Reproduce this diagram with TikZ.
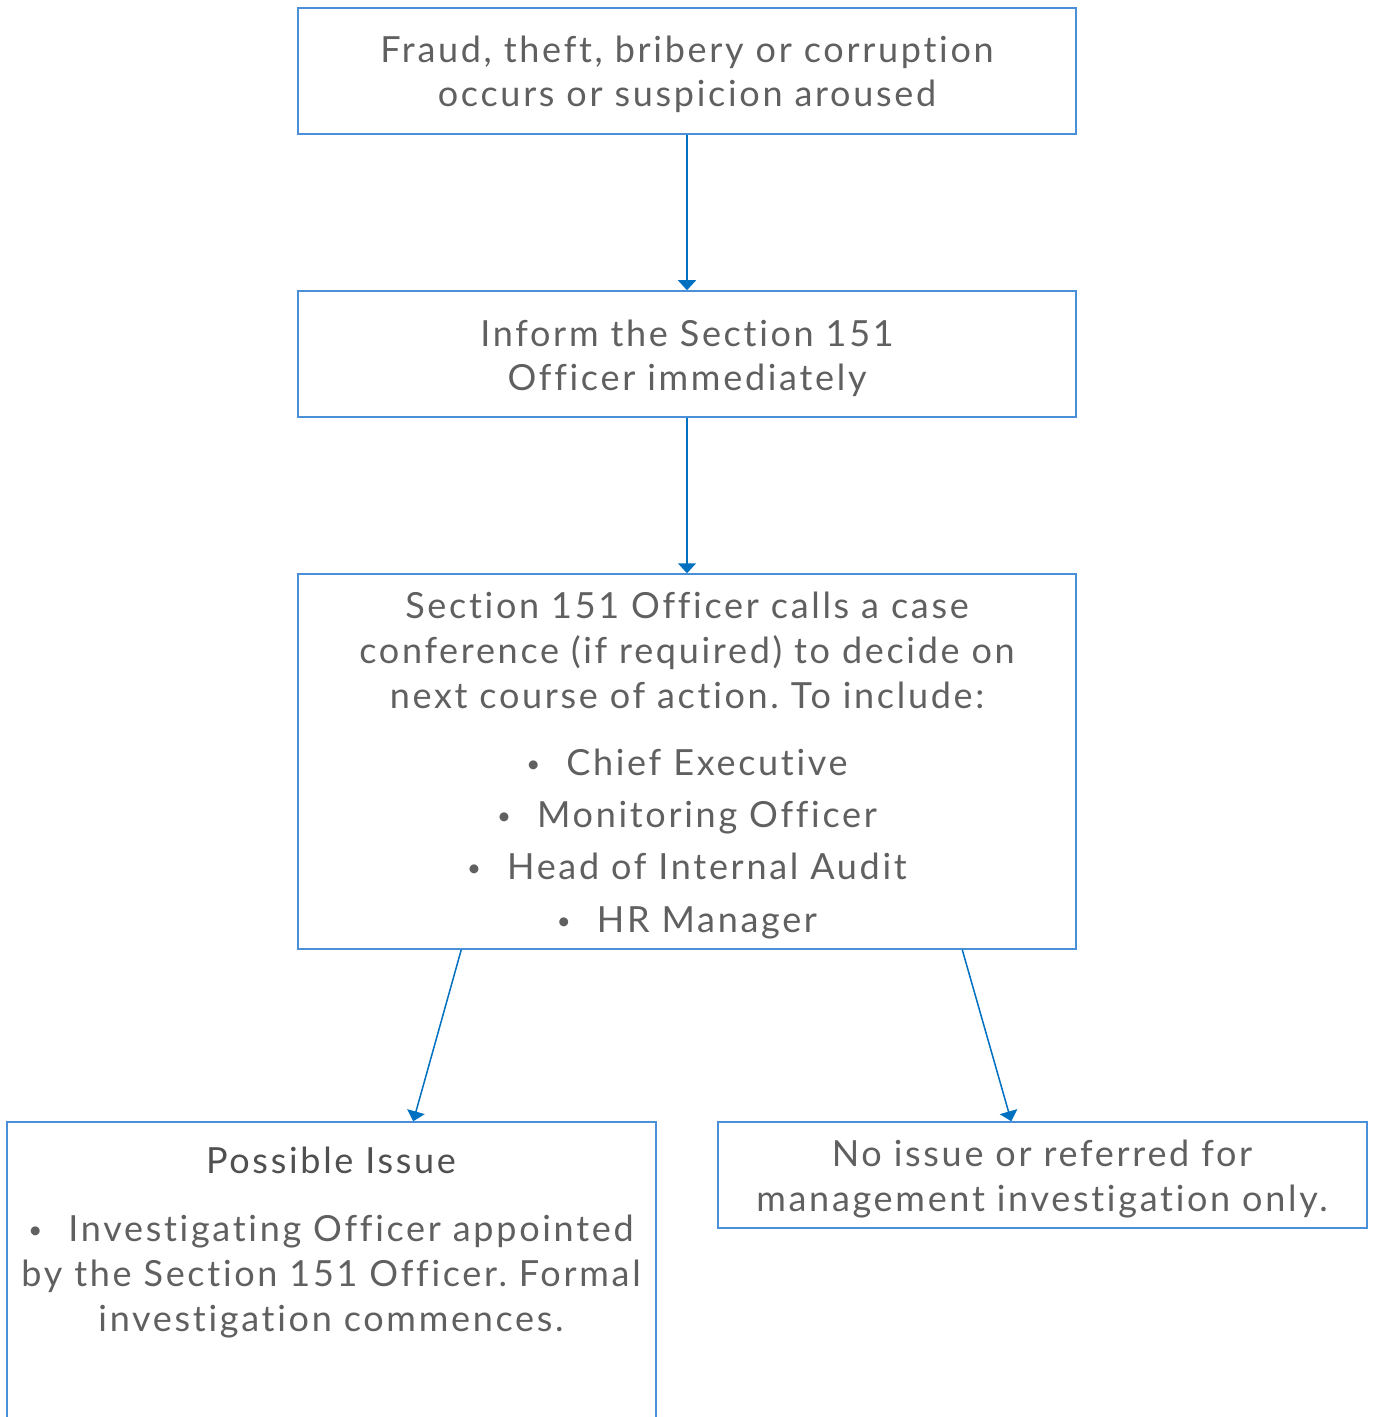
\documentclass[tikz,border=0pt]{standalone}
\usepackage{fontspec}
\setmainfont{Lato}[Ligatures={NoCommon}, LetterSpace=7.5]
\usetikzlibrary{arrows.meta}
\definecolor{boxblue}{RGB}{74,144,217}
\definecolor{arrblue}{RGB}{0,112,192}
\definecolor{txt}{RGB}{96,96,96}
\frenchspacing
\newcommand{\bul}{\raisebox{1.5pt}{\fontsize{12}{12}\selectfont•}\hspace{13pt}}
\tikzset{
  box/.style={draw=boxblue, line width=0.75pt, rectangle, inner sep=0pt},
  arr/.style={draw=arrblue, line width=0.75pt, -{Triangle[width=9pt,length=5pt]}},
  ln/.style={anchor=base, inner sep=0pt, text=txt, font=\fontsize{18}{22}\selectfont},
  hd/.style={ln, text={rgb,255:red,80;green,80;blue,80}},
}
\begin{document}
\begin{tikzpicture}[x=0.5pt,y=-0.5pt]
\clip (0,0) rectangle (1375,1417);
\useasboundingbox (0,0) rectangle (1375,1417);
\fill[white] (0,0) rectangle (1375,1417);
% boxes
\node[box, minimum width=389pt, minimum height=63pt] (b1) at (687,71) {};
\node[box, minimum width=389pt, minimum height=63pt] (b2) at (687,354) {};
\node[box, minimum width=389pt, minimum height=187.5pt] (b3) at (687,761.5) {};
\node[box, minimum width=324.5pt, minimum height=161.5pt] (b4) at (331.5,1283.5) {};
\node[box, minimum width=324.5pt, minimum height=53pt] (b5) at (1042.5,1175) {};
% texts
\node[ln] (t11) at (687,63) {Fraud, theft, bribery or corruption};
\node[ln] (t12) at (687,107) {occurs or suspicion aroused};
\node[ln] (t21) at (687,346) {Inform the Section 151};
\node[ln] (t22) at (687,390) {Officer immediately};
\node[ln] (t31) at (687,618) {Section 151 Officer calls a case};
\node[ln] (t32) at (687,663) {conference (if required) to decide on};
\node[ln] (t33) at (687,708) {next course of action. To include:};
\node[ln] (t34) at (687,775) {\bul Chief Executive};
\node[ln] (t35) at (687,827) {\bul Monitoring Officer};
\node[ln] (t36) at (687,879) {\bul Head of Internal Audit};
\node[ln] (t37) at (687,932) {\bul HR Manager};
\node[hd] (t41) at (331,1173) {Possible Issue};
\node[ln] (t42) at (331,1241) {\bul Investigating Officer appointed};
\node[ln] (t43) at (331,1286) {by the Section 151 Officer. Formal};
\node[ln] (t44) at (331,1331) {investigation commences.};
\node[ln] (t51) at (1042,1166) {No issue or referred for};
\node[ln] (t52) at (1042,1211) {management investigation only.};
% arrows
\draw[arr] (b1.south) -- (b2.north);
\draw[arr] (b2.south) -- (b3.north);
\draw[arr] ([xshift=82pt]b3.south west) -- ([xshift=203.5pt]b4.north west);
\draw[arr] ([xshift=332.5pt]b3.south west) -- ([xshift=147pt]b5.north west);
\end{tikzpicture}
\end{document}
